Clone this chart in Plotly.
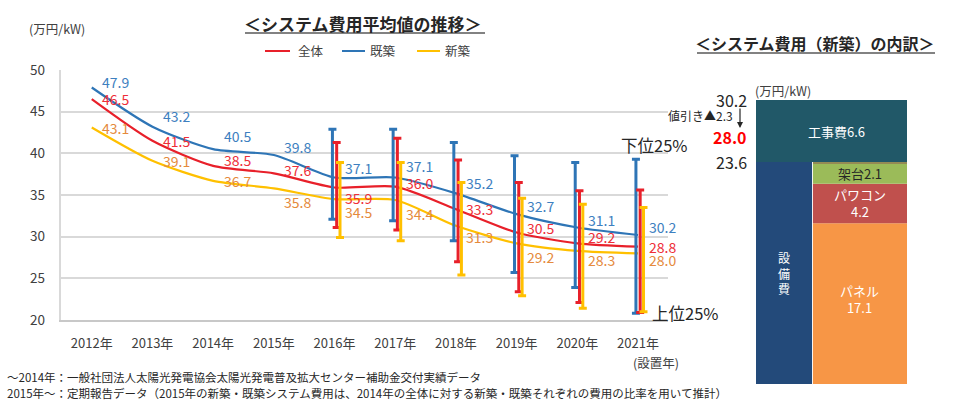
import numpy as np
import plotly.graph_objects as go

# ---------------- data ----------------
years = ["2012年", "2013年", "2014年", "2015年", "2016年",
         "2017年", "2018年", "2019年", "2020年", "2021年"]
zentai = [46.5, 41.5, 38.5, 37.6, 35.9, 36.0, 33.3, 30.5, 29.2, 28.8]      # 全体
kichiku = [47.9, 43.2, 40.5, 39.8, 37.1, 37.1, 35.2, 32.7, 31.1, 30.2]     # 既築
shinchiku = [43.1, 39.1, 36.7, 35.8, 34.5, 34.4, 31.3, 29.2, 28.3, 28.0]   # 新築

# quartile ranges (2016-2021): 下位25% (top) / 上位25% (bottom)
range_years = ["2016年", "2017年", "2018年", "2019年", "2020年", "2021年"]
kichiku_low25 = [42.9, 42.9, 41.3, 39.7, 38.9, 39.3]
kichiku_up25 = [32.1, 31.9, 29.5, 25.7, 23.9, 20.8]
zentai_low25 = [41.3, 41.8, 39.2, 36.5, 35.5, 35.6]
zentai_up25 = [31.1, 30.8, 27.0, 23.4, 22.1, 20.9]
shinchiku_low25 = [38.9, 38.9, 36.5, 34.6, 33.9, 33.5]
shinchiku_up25 = [29.9, 29.5, 25.4, 22.9, 21.4, 21.0]

# breakdown of new-build system cost (2021)
equip_parts = ["パネル", "パワコン", "架台", "その他"]
equip_values = [17.1, 4.2, 2.1, 0.2]
equip_total = 23.6
construction_cost = 6.6
system_total = 30.2
discount = 2.3
after_discount = 28.0

# ---------------- styles ----------------
W, H = 980, 419
FONT = "Noto Sans CJK JP"
C_RED, C_BLUE, C_YEL = "#E8202A", "#2E75B6", "#FFC000"
L_RED, L_BLUE, L_YEL = "#EE2E38", "#3D80C0", "#E58A3C"
TXT = "#404040"

def px(x):
    return x / W

def py(y):
    return 1 - y / H

# label vertical offsets (pixels) per point
dy_blue = [6, 11, 13, 8, 10, 12, 10, 8, 8, 8]
dy_red = [0, 0, 6, 3, -10, 4, 0, 5, 6, 0]
dy_yel = [0, 0, 0, -14, -13, -14, -11, -14, -9, -7]

idx = np.arange(len(years))
ridx = np.array([years.index(y) for y in range_years])

fig = go.Figure()

series = [
    ("全体", zentai, C_RED, zentai_low25, zentai_up25, 0.035),
    ("既築", kichiku, C_BLUE, kichiku_low25, kichiku_up25, -0.035),
    ("新築", shinchiku, C_YEL, shinchiku_low25, shinchiku_up25, 0.09),
]

# lines
for name, vals, col, hi, lo, off in [series[2], series[0], series[1]]:
    fig.add_trace(go.Scatter(
        x=idx, y=vals, mode="lines", name=name,
        line=dict(color=col, width=2.2, shape="spline", smoothing=0.7),
        xaxis="x", yaxis="y", showlegend=False, hoverinfo="skip"))

# error bars (quartile ranges)
for name, vals, col, hi, lo, off in [series[1], series[0], series[2]]:
    mid = np.array(vals)[ridx]
    fig.add_trace(go.Scatter(
        x=ridx + off, y=mid, mode="markers",
        marker=dict(size=1, opacity=0),
        error_y=dict(type="data", symmetric=False,
                     array=np.array(hi) - mid, arrayminus=mid - np.array(lo),
                     color=col, thickness=3, width=4),
        xaxis="x", yaxis="y", showlegend=False, hoverinfo="skip"))

# stacked breakdown bar
fig.add_trace(go.Bar(x=[0.1855], y=[equip_total], base=[0], width=[0.371],
                     marker=dict(color="#234A7A", line=dict(width=0)),
                     xaxis="x2", yaxis="y2", showlegend=False, hoverinfo="skip"))
part_colors = ["#F79646", "#C0504D", "#9BBB59", "#948A54"]
bases = np.concatenate([[0], np.cumsum(equip_values)[:-1]])
for v, b, c in zip(equip_values, bases, part_colors):
    fig.add_trace(go.Bar(x=[0.6885], y=[v], base=[b], width=[0.623],
                         marker=dict(color=c, line=dict(width=0)),
                         xaxis="x2", yaxis="y2", showlegend=False, hoverinfo="skip"))
fig.add_trace(go.Bar(x=[0.5], y=[construction_cost], base=[equip_total], width=[1.0],
                     marker=dict(color="#215868", line=dict(width=0)),
                     xaxis="x2", yaxis="y2", showlegend=False, hoverinfo="skip"))

ann = []
# data labels
for vals, dys, col in [(kichiku, dy_blue, L_BLUE), (zentai, dy_red, L_RED), (shinchiku, dy_yel, L_YEL)]:
    for i, v in enumerate(vals):
        ann.append(dict(x=i, y=v, xref="x", yref="y", text=f"{v:.1f}", showarrow=False,
                        xshift=24, yshift=dys[i], font=dict(size=14, color=col, family=FONT)))

def ptext(x, y, text, size=13, color=TXT, xanchor="center", bold=False):
    t = f"<b>{text}</b>" if bold else text
    ann.append(dict(x=px(x), y=py(y), xref="paper", yref="paper", text=t, showarrow=False,
                    xanchor=xanchor, yanchor="middle", font=dict(size=size, color=color, family=FONT)))

# left chart texts
ptext(363, 23, "＜システム費用平均値の推移＞", size=17, color="#262626", bold=True)
ptext(27, 28, "(万円/kW)", size=12.5, xanchor="left")
ptext(296, 51, "全体", size=12.5, xanchor="left")
ptext(368, 51, "既築", size=12.5, xanchor="left")
ptext(443, 51, "新築", size=12.5, xanchor="left")
ptext(654, 145, "下位25%", size=16.5, color="#262626")
ptext(685, 313, "上位25%", size=16.5, color="#262626")
ptext(656, 362, "(設置年)", size=12.5)
ptext(5, 377, "～2014年：一般社団法人太陽光発電協会太陽光発電普及拡大センター補助金交付実績データ", size=11.5, xanchor="left", color="#262626")
ptext(5, 393, "2015年～：定期報告データ（2015年の新築・既築システム費用は、2014年の全体に対する新築・既築それぞれの費用の比率を用いて推計）", size=11.5, xanchor="left", color="#262626")

# right chart texts
ptext(815, 43, "＜システム費用（新築）の内訳＞", size=16, color="#262626", bold=True)
ptext(753, 90, "(万円/kW)", size=12.5, xanchor="left")
ann.append(dict(x=px(749), y=system_total, xref="paper", yref="y2", text=f"{system_total:.1f}",
                showarrow=False, xanchor="right", font=dict(size=16, color="#262626", family=FONT)))
ann.append(dict(x=px(749), y=equip_total, xref="paper", yref="y2", text=f"{equip_total:.1f}",
                showarrow=False, xanchor="right", font=dict(size=16, color="#262626", family=FONT)))
ptext(735, 116, f"値引き▲{discount:.1f}", size=12, xanchor="right", color="#262626")
ptext(749, 137, f"{after_discount:.1f}", size=16, color="#FF0000", xanchor="right", bold=True)
ann.append(dict(x=px(740), y=py(128), ax=0, ay=-21, xref="paper", yref="paper",
                axref="pixel", ayref="pixel", text="", showarrow=True,
                arrowhead=2, arrowsize=1, arrowwidth=1.2, arrowcolor="#262626"))

def btext(x, y, text, color="white", size=13):
    ann.append(dict(x=x, y=y, xref="x2", yref="y2", text=text, showarrow=False,
                    font=dict(size=size, color=color, family=FONT)))

btext(0.53, equip_total + construction_cost / 2, f"工事費{construction_cost:.1f}")
btext(0.1855, equip_total * 0.5, "設<br>備<br>費", size=12)
btext(0.6885, bases[0] + equip_values[0] / 2 + 0.5, f"{equip_parts[0]}<br>{equip_values[0]:.1f}")
btext(0.6885, bases[1] + equip_values[1] / 2, f"{equip_parts[1]}<br>{equip_values[1]:.1f}")
btext(0.6885, bases[2] + equip_values[2] / 2, f"{equip_parts[2]}{equip_values[2]:.1f}", color="#262626")
ann.append(dict(x=1.03, y=bases[3] + equip_values[3] / 2, xref="x2", yref="y2",
                text=f"{equip_parts[3]}{equip_values[3]:.1f}", showarrow=False, xanchor="left",
                font=dict(size=12, color="#262626", family=FONT)))

shapes = [
    dict(type="line", xref="paper", yref="paper", x0=px(245), x1=px(485), y0=py(33), y1=py(33),
         line=dict(color="#595959", width=1.5)),
    dict(type="line", xref="paper", yref="paper", x0=px(697), x1=px(935), y0=py(53), y1=py(53),
         line=dict(color="#595959", width=1.5)),
    dict(type="line", xref="paper", yref="paper", x0=px(265), x1=px(290), y0=py(51), y1=py(51),
         line=dict(color=C_RED, width=2)),
    dict(type="line", xref="paper", yref="paper", x0=px(342), x1=px(365), y0=py(51), y1=py(51),
         line=dict(color=C_BLUE, width=2)),
    dict(type="line", xref="paper", yref="paper", x0=px(417), x1=px(440), y0=py(51), y1=py(51),
         line=dict(color=C_YEL, width=2)),
]

fig.update_layout(
    width=W, height=H, margin=dict(l=0, r=0, t=0, b=0, pad=0, autoexpand=False),
    paper_bgcolor="white", plot_bgcolor="white",
    font=dict(family=FONT, size=13, color=TXT),
    barmode="overlay", showlegend=False,
    xaxis=dict(domain=[px(61.4), px(668.4)], range=[-0.5, 9.5], tickvals=list(idx), ticktext=years,
               showgrid=False, zeroline=False, showline=True, linecolor="#C8C8C8", linewidth=1.5,
               ticks="", ticklabelstandoff=11, tickfont=dict(size=13, color=TXT), anchor="y",
               automargin=False),
    yaxis=dict(domain=[py(320), py(70)], range=[20, 50], dtick=5, showgrid=True,
               gridcolor="#D9D9D9", gridwidth=1.5, zeroline=False, showline=True,
               linecolor="#D9D9D9", linewidth=1.5, ticks="", ticklabelstandoff=12,
               tickfont=dict(size=13.5, color=TXT), anchor="x", automargin=False),
    xaxis2=dict(domain=[px(756), px(907)], range=[0, 1], visible=False, anchor="y2", automargin=False),
    yaxis2=dict(domain=[py(384), py(100)], range=[0, system_total], visible=False, anchor="x2", automargin=False),
    annotations=ann, shapes=shapes,
)

fig.write_html("out.html")
